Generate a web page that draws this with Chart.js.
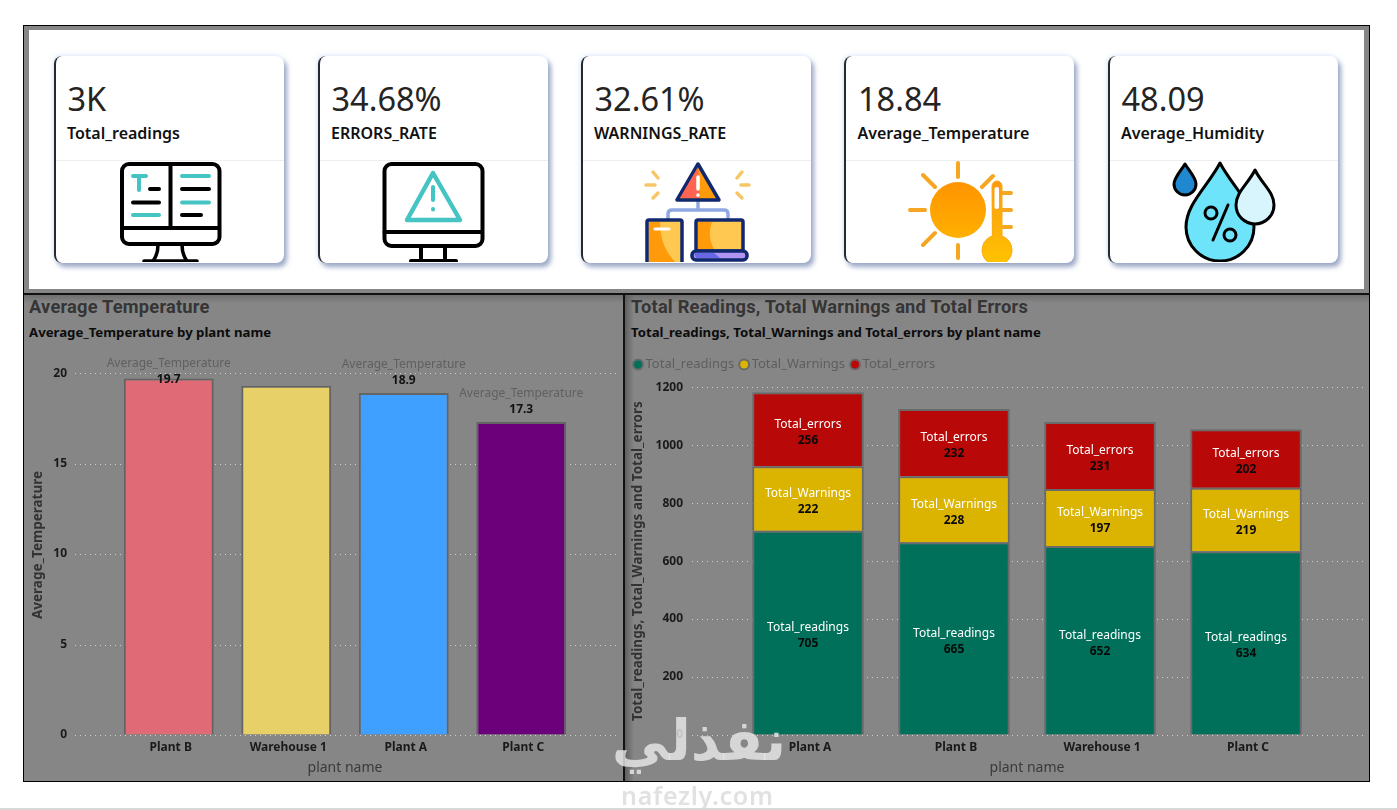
<!DOCTYPE html>
<html><head><meta charset="utf-8">
<script src="https://cdn.jsdelivr.net/npm/chart.js@4"></script>
<style>
html,body{margin:0;padding:0;background:#fff;width:1397px;height:810px;overflow:hidden;font-family:"Noto Sans",sans-serif}
.abs{position:absolute}
#frame{left:23px;top:25px;width:1347px;height:757px;background:#868686;box-sizing:border-box;border:1px solid #000}
#top{left:29px;top:30px;width:1335px;height:259px;background:#fff}
#hline{left:24px;top:293px;width:1346px;height:2px;background:#111}
#vline{left:622.5px;top:294px;width:2px;height:488px;background:#111}
#shadeT{left:24px;top:295px;width:1345px;height:8px;background:linear-gradient(#6f6f6f,rgba(134,134,134,0))}
#shadeL{left:625px;top:295px;width:9px;height:486px;background:linear-gradient(90deg,#5f5f5f,rgba(134,134,134,0))}
.card{position:absolute;top:56px;width:230px;height:207px;background:#fff;box-sizing:border-box;border-left:2.5px solid #252a30;border-radius:8px;
 box-shadow:3px 4px 5px rgba(90,110,160,.6),-1px -1px 5px rgba(170,200,240,.35)}
.card .val{position:absolute;left:12px;top:21px;font-size:32.5px;line-height:44px;color:#252423}
.card .lab{position:absolute;left:11.5px;top:65px;font-size:16px;line-height:24px;font-weight:600;color:#111}
.card .div{position:absolute;left:0;right:0;top:104px;height:1px;background:#eceff2}
#icons{left:0;top:0}
.ttl{position:absolute;font-family:Roboto,sans-serif;font-weight:700;font-size:18.3px;line-height:24px;color:#353535;letter-spacing:.2px}
.sub{position:absolute;font-family:"Noto Sans",sans-serif;font-weight:700;font-size:13.2px;line-height:18px;color:#0c0c0c}
canvas{position:absolute}
#wm1{left:604px;top:700px;width:190px;text-align:center;font-family:"DejaVu Sans",sans-serif;font-weight:700;font-size:57px;line-height:80px;color:rgba(232,232,232,.82);direction:rtl}
#wm2{left:621px;top:780px;font-family:"Noto Sans",sans-serif;font-weight:600;font-size:25px;line-height:30px;letter-spacing:.7px;color:rgba(215,215,215,.75)}
#foot{left:0;top:808px;width:1397px;height:2px;background:#d8d8d8}
</style></head>
<body>
<div id="frame" class="abs"></div><div id="top" class="abs"></div>
<div id="shadeT" class="abs"></div><div id="shadeL" class="abs"></div>
<div id="hline" class="abs"></div><div id="vline" class="abs"></div>
<div id="cards"></div>

<svg id="icons" class="abs" width="1397" height="810" fill="none" stroke-linecap="round" stroke-linejoin="round">
<defs><clipPath id="cl"><rect x="0" y="150" width="1397" height="112"/></clipPath>
<linearGradient id="sun" x1="0" y1="0" x2="0" y2="1"><stop offset="0" stop-color="#ff9400"/><stop offset="1" stop-color="#ffb000"/></linearGradient>
<linearGradient id="th" x1="0" y1="0" x2="0" y2="1"><stop offset="0" stop-color="#fb9a12"/><stop offset="1" stop-color="#ffc400"/></linearGradient></defs>
<g clip-path="url(#cl)">
<g stroke="#000" stroke-width="4"><rect x="122" y="164" width="97.5" height="80" rx="7"/><path d="M122 228H219M170.5 164V228"/>
<path d="M158 245C158 252 156 257 153 261M182 245C182 252 184 257 187 261M144 261H197" stroke-width="3.5"/>
<path d="M150 189H159M133 202.5H159M182 189H209M182 215H201"/></g>
<path d="M133 176H146M139 176V190M133 215H159M182 176H209M182 202.5H209" stroke="#45c4c4" stroke-width="4"/>
<g stroke="#000" stroke-width="4"><rect x="384.5" y="164" width="98" height="82" rx="7"/><path d="M384.5 232H482M421 246V260M445 246V260M411 261H456"/></g>
<path d="M433 173L460 220H407Z" stroke="#45c4c4" stroke-width="4.5"/><path d="M433 187V200M433 209V209.5" stroke="#45c4c4" stroke-width="4"/>
<path d="M698 200V210M668 218V214Q668 210 672 210H724Q728 210 728 214V218" stroke="#90a8e2" stroke-width="3.5"/>
<path d="M653 172L658 178M646 185H655M653 198L658 193M742 172L737 178M749 185H741M742 198L737 193" stroke="#f6c667" stroke-width="3.5"/>
<path d="M698 164L719 200H677Z" fill="#ff9a0a" stroke="#10296e" stroke-width="3.5"/><path d="M698 167L680 198H700Z" fill="#ff6352"/>
<path d="M698 177V189M698 195V195.3" stroke="#fff" stroke-width="3.5"/>
<rect x="647" y="220" width="35" height="44" rx="2" fill="#ffc850" stroke="#10296e" stroke-width="3.5"/><path d="M649 222H660C660 240 666 252 675 262H649Z" fill="#ff9a0a"/><path d="M655 229H669" stroke="#fff" stroke-width="3"/>
<rect x="696" y="220" width="47" height="31" rx="2" fill="#ffc850" stroke="#10296e" stroke-width="3.5"/><path d="M698 222H712C708 232 710 242 714 249H698Z" fill="#ff9a0a"/>
<rect x="692" y="251" width="55" height="9" rx="4" fill="#b194f2" stroke="#10296e" stroke-width="3.5"/><path d="M694 253H714L720 258H696Z" fill="#6868e6"/>
<path d="M958 163V177M910 210H925M958 245V258M923 175L935 187M993 176L982 187M923 245L935 233" stroke="#f5a623" stroke-width="4"/>
<circle cx="958" cy="210" r="28" fill="url(#sun)"/>
<path d="M1002 193H1011M1002 210H1011M1002 227H1011" stroke="#f5a623" stroke-width="4"/>
<path d="M992 186A5 5 0 0 1 1002 186V236A15 15 0 1 1 992 236Z" fill="url(#th)" stroke="#fbab14" stroke-width="1"/>
<rect x="994.5" y="187" width="4.5" height="22" fill="#fff" rx="2" stroke="none"/>
<g stroke="#000" stroke-width="3">
<path d="M1185 164C1180 172 1174 178 1174 184A11 11 0 0 0 1196 184C1196 178 1190 172 1185 164Z" fill="#1f88d0"/>
<path d="M1220 163C1208 186 1186 204 1186 227A34 34 0 0 0 1254 227C1254 204 1232 186 1220 163Z" fill="#6ee4fa"/>
<path d="M1255 170C1248 184 1236 192 1236 205A19 19 0 0 0 1274 205C1274 192 1262 184 1255 170Z" fill="#d8f4fc"/>
<circle cx="1211" cy="213" r="6"/><circle cx="1230" cy="235" r="6"/><path d="M1228 205L1213 240"/></g>
</g>
</svg>

<div class="ttl" style="left:29px;top:295px">Average Temperature</div>
<div class="sub" style="left:29px;top:323px">Average_Temperature by plant name</div>
<div class="ttl" style="left:631px;top:295px">Total Readings, Total Warnings and Total Errors</div>
<div class="sub" style="left:631px;top:323px">Total_readings, Total_Warnings and Total_errors by plant name</div>

<canvas id="c1" width="598" height="441" style="left:24px;top:340px;width:598px;height:441px"></canvas>
<canvas id="c2" width="741" height="432" style="left:628px;top:349px;width:741px;height:432px"></canvas>

<div id="wm1" class="abs">نفذلي</div>
<div id="wm2" class="abs">nafezly.com</div>
<div id="foot" class="abs"></div>

<script>
const kpiValues = ['3K', '34.68%', '32.61%', '18.84', '48.09'];
const kpiLabels = ['Total_readings', 'ERRORS_RATE', 'WARNINGS_RATE', 'Average_Temperature', 'Average_Humidity'];
const kpiLefts = [53.5, 317.5, 580.5, 844, 1107.5];

const tempPlants = ['Plant B', 'Warehouse 1', 'Plant A', 'Plant C'];
const tempValues = [19.7, 19.3, 18.9, 17.3];
const tempShown = [true, false, true, true];
const tempColors = ['#e06a75', '#e8d068', '#3fa0ff', '#6b007a'];

const stackPlants = ['Plant A', 'Plant B', 'Warehouse 1', 'Plant C'];
const totalReadings = [705, 665, 652, 634];
const totalWarnings = [222, 228, 197, 219];
const totalErrors = [256, 232, 231, 202];

kpiValues.forEach((v, i) => {
  const d = document.createElement('div');
  d.className = 'card'; d.style.left = kpiLefts[i] + 'px';
  d.innerHTML = '<div class="val">' + v + '</div><div class="lab">' + kpiLabels[i] + '</div><div class="div"></div>';
  document.getElementById('cards').appendChild(d);
});

const FONT = '"Noto Sans", sans-serif';
Chart.defaults.font.family = FONT;
Chart.defaults.animation = false;

const dotGrid = {
  id: 'dotGrid',
  beforeDatasetsDraw(chart, a, o) {
    const y = chart.scales.y, c = chart.ctx;
    c.save(); c.strokeStyle = 'rgba(225,225,225,.8)'; c.lineWidth = 1; c.setLineDash([1, 4]);
    y.ticks.forEach(t => {
      const p = Math.round(y.getPixelForValue(t.value)) + .5;
      c.beginPath(); c.moveTo(o.from, p); c.lineTo(o.to, p); c.stroke();
    });
    c.restore();
  }
};
const tempLabels = {
  id: 'tempLabels',
  afterDatasetsDraw(chart) {
    const c = chart.ctx, m = chart.getDatasetMeta(0);
    c.save(); c.textAlign = 'center'; c.textBaseline = 'middle';
    m.data.forEach((b, i) => {
      if (!tempShown[i]) return;
      const vy = Math.max(b.y - 12, 40);
      c.font = '12px ' + FONT; c.fillStyle = '#606060';
      c.fillText(chart.data.datasets[0].label, b.x, vy - 16);
      c.font = '700 12px ' + FONT; c.fillStyle = '#111';
      c.fillText(tempValues[i].toFixed(1), b.x, vy);
    });
    c.restore();
  }
};
const stackLabels = {
  id: 'stackLabels',
  afterDatasetsDraw(chart) {
    const c = chart.ctx;
    c.save(); c.textAlign = 'center'; c.textBaseline = 'middle';
    chart.data.datasets.forEach((ds, k) => {
      chart.getDatasetMeta(k).data.forEach((b, i) => {
        const mid = (b.y + b.base) / 2;
        c.font = '12px ' + FONT; c.fillStyle = '#fff';
        c.fillText(ds.label, b.x, mid - 5);
        c.font = '700 12px ' + FONT; c.fillStyle = '#0a0a0a';
        c.fillText(ds.data[i], b.x, mid + 11);
      });
    });
    c.restore();
  }
};

const tickFont = {family: FONT, size: 12, weight: '700'};
function xAxis() {
  return {
    grid: {display: false, drawTicks: false}, border: {display: false},
    ticks: {color: '#1a1a1a', font: tickFont, padding: 5, labelOffset: 2, maxRotation: 0, autoSkip: false},
    title: {display: true, text: 'plant name', color: '#3a3a3a', font: {family: FONT, size: 14}, padding: {top: 0, bottom: 5}},
    afterFit(s) { s.height = 46; }
  };
}
function yGrid(len) {
  return {display: true, drawOnChartArea: false, drawTicks: true, tickLength: len, tickColor: 'transparent'};
}

new Chart(document.getElementById('c1'), {
  type: 'bar',
  data: {labels: tempPlants, datasets: [{
    label: 'Average_Temperature', data: tempValues, backgroundColor: tempColors,
    borderColor: '#646464', borderWidth: 2, barPercentage: .765, categoryPercentage: 1
  }]},
  options: {
    responsive: false, devicePixelRatio: 1,
    layout: {autoPadding: false, padding: {top: 15, right: 42, left: 0, bottom: 0}},
    plugins: {legend: {display: false}, tooltip: {enabled: false}, dotGrid: {from: 51, to: 594}},
    scales: {
      x: xAxis(),
      y: {
        min: 0, max: 21, grid: yGrid(43), border: {display: false},
        ticks: {stepSize: 5, includeBounds: false, color: '#1a1a1a', font: tickFont, padding: 0},
        title: {display: true, text: 'Average_Temperature', color: '#333', font: {family: FONT, size: 13.5, weight: '700'}, padding: {top: 6, bottom: 0}},
        afterFit(s) { s.width = 86; }
      }
    }
  },
  plugins: [dotGrid, tempLabels]
});

const borderC = '#6a6a6a';
new Chart(document.getElementById('c2'), {
  type: 'bar',
  data: {labels: stackPlants, datasets: [
    {label: 'Total_readings', data: totalReadings, backgroundColor: '#00705a', borderColor: borderC, borderWidth: 2, barPercentage: .765, categoryPercentage: 1},
    {label: 'Total_Warnings', data: totalWarnings, backgroundColor: '#dab400', borderColor: borderC, borderWidth: 2, barPercentage: .765, categoryPercentage: 1},
    {label: 'Total_errors', data: totalErrors, backgroundColor: '#b80808', borderColor: borderC, borderWidth: 2, barPercentage: .765, categoryPercentage: 1}
  ]},
  options: {
    responsive: false, devicePixelRatio: 1,
    layout: {autoPadding: false, padding: {top: 0, right: 50, left: 0, bottom: 0}},
    plugins: {
      tooltip: {enabled: false},
      dotGrid: {from: 64, to: 737},
      title: {display: true, text: '', weight: 500, font: {size: 1}, padding: {top: 0, bottom: 5}},
      legend: {
        position: 'top', align: 'start',
        labels: {usePointStyle: true, pointStyle: 'circle', boxWidth: 2, boxHeight: 7, padding: 9, color: '#5e5e5e', font: {family: FONT, size: 13}}
      }
    },
    scales: {
      x: Object.assign(xAxis(), {stacked: true}),
      y: {
        stacked: true, min: 0, max: 1200, grid: yGrid(52), border: {display: false},
        ticks: {stepSize: 200, color: '#1a1a1a', font: tickFont, padding: 0, callback: v => String(v)},
        title: {display: true, text: 'Total_readings, Total_Warnings and Total_errors', color: '#333', font: {family: FONT, size: 13.5, weight: '700'}, padding: {top: 2, bottom: 0}},
        afterFit(s) { s.width = 107; }
      }
    }
  },
  plugins: [dotGrid, stackLabels]
});
</script>
</body></html>
